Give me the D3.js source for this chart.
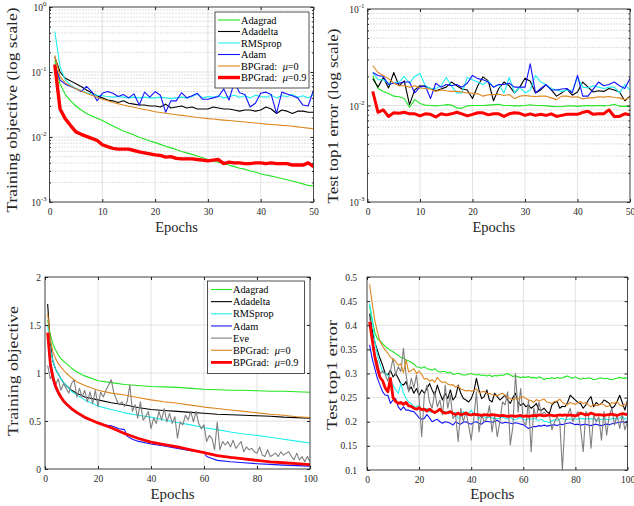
<!DOCTYPE html>
<html>
<head>
<meta charset="utf-8">
<script src="https://cdn.jsdelivr.net/npm/d3@7"></script>
<style>
body { margin: 0; background: #fff; }
svg { display: block; font-family: "Liberation Serif", "Times New Roman", serif; }
</style>
</head>
<body>
<svg width="634" height="506"></svg>
<script>
// ---- data ----
const methodNames = ["Adagrad", "Adadelta", "RMSprop", "Adam", "Eve", "BPGrad: μ=0", "BPGrad: μ=0.9"]
const methodColors = ["#22e622", "#000000", "#1ef0f0", "#1414ff", "#7f7f7f", "#dd861e", "#ff0000"]

const epochs50 = d3.range(1, 51)
const epochs100 = d3.range(1, 101)
const sparseEpochs = [1, 2, 3, 4, 5, 6, 7, 8, 10, 12, 15, 20, 25, 30, 35, 40, 45, 50, 55, 60, 65, 70, 75, 80, 85, 90, 95, 100]
const adamEpochs = [1, 2, 3, 4, 5, 6, 7, 8, 10, 12, 15, 20, 22, 25, 28, 30, 31, 33, 35, 40, 45, 50, 55, 60, 61, 63, 65, 70, 75, 80, 85, 90, 95, 100]

// top-left: training objective (log)
const trainLogAdagrad = [0.15, 0.065, 0.045, 0.036, 0.03, 0.026, 0.023, 0.021, 0.0195, 0.018, 0.0163, 0.0148, 0.0135, 0.0124, 0.0115, 0.0107, 0.0099, 0.0093, 0.0087, 0.0082, 0.0077, 0.0072, 0.0068, 0.0064, 0.006, 0.0057, 0.0054, 0.0051, 0.0048, 0.0045, 0.0043, 0.0041, 0.0039, 0.0037, 0.0035, 0.0033, 0.0032, 0.003, 0.0029, 0.0027, 0.0026, 0.0025, 0.0024, 0.0023, 0.0022, 0.0021, 0.002, 0.0019, 0.0018, 0.00176]
const trainLogAdadelta = [0.17, 0.1, 0.08, 0.073, 0.066, 0.06, 0.053, 0.048, 0.043, 0.04, 0.037, 0.036, 0.034, 0.036, 0.033, 0.032, 0.031, 0.031, 0.03, 0.03, 0.029, 0.032, 0.028, 0.029, 0.03, 0.028, 0.029, 0.027, 0.027, 0.027, 0.029, 0.028, 0.027, 0.027, 0.026, 0.025, 0.026, 0.026, 0.025, 0.026, 0.029, 0.027, 0.023, 0.026, 0.025, 0.023, 0.025, 0.025, 0.024, 0.024]
const trainLogRMSprop = [0.42, 0.12, 0.075, 0.063, 0.056, 0.052, 0.048, 0.046, 0.044, 0.043, 0.042, 0.041, 0.042, 0.041, 0.04, 0.041, 0.04, 0.041, 0.04, 0.04, 0.041, 0.04, 0.039, 0.04, 0.041, 0.04, 0.042, 0.046, 0.04, 0.042, 0.041, 0.043, 0.04, 0.042, 0.044, 0.041, 0.043, 0.04, 0.044, 0.042, 0.041, 0.044, 0.04, 0.043, 0.042, 0.045, 0.041, 0.043, 0.04, 0.045]
const trainLogAdam = [0.13, 0.075, 0.065, 0.06, 0.055, 0.05, 0.06, 0.05, 0.036, 0.047, 0.05, 0.047, 0.042, 0.045, 0.04, 0.046, 0.031, 0.049, 0.041, 0.05, 0.044, 0.024, 0.036, 0.036, 0.048, 0.04, 0.043, 0.047, 0.038, 0.038, 0.04, 0.042, 0.055, 0.037, 0.07, 0.048, 0.045, 0.029, 0.033, 0.047, 0.049, 0.045, 0.023, 0.049, 0.046, 0.043, 0.04, 0.031, 0.03, 0.053]
const trainLogBP0 = [0.18, 0.085, 0.068, 0.061, 0.055, 0.051, 0.047, 0.044, 0.041, 0.038, 0.036, 0.034, 0.0325, 0.031, 0.0298, 0.0286, 0.0275, 0.0265, 0.0255, 0.0245, 0.0238, 0.0232, 0.0226, 0.022, 0.0215, 0.021, 0.0205, 0.02, 0.0196, 0.0192, 0.0189, 0.0185, 0.0182, 0.0179, 0.0176, 0.0173, 0.017, 0.0167, 0.0164, 0.0161, 0.0158, 0.0156, 0.0154, 0.0151, 0.0149, 0.0146, 0.0143, 0.014, 0.0137, 0.0134]
const trainLogBP09 = [0.13, 0.027, 0.019, 0.015, 0.012, 0.011, 0.0102, 0.0095, 0.0089, 0.0076, 0.0071, 0.0067, 0.0065, 0.0065, 0.0065, 0.0062, 0.0059, 0.0057, 0.0055, 0.0053, 0.0052, 0.0049, 0.005, 0.0047, 0.0046, 0.0046, 0.0046, 0.0045, 0.0044, 0.0043, 0.0044, 0.0045, 0.0039, 0.0041, 0.004, 0.004, 0.0039, 0.0039, 0.004, 0.004, 0.0039, 0.004, 0.0039, 0.0039, 0.0039, 0.0037, 0.0037, 0.0037, 0.004, 0.0035]

// top-right: test top1 error (log)
const testLogAdagrad = [0.0205, 0.015, 0.014, 0.0133, 0.0125, 0.0123, 0.0118, 0.0096, 0.0115, 0.0105, 0.0101, 0.01, 0.0099, 0.01, 0.0102, 0.0101, 0.0094, 0.0094, 0.0099, 0.01, 0.01, 0.01, 0.0101, 0.0102, 0.0103, 0.01, 0.01, 0.0099, 0.0099, 0.01, 0.0102, 0.01, 0.01, 0.0099, 0.0098, 0.0097, 0.0097, 0.0099, 0.0099, 0.0098, 0.0099, 0.01, 0.0099, 0.01, 0.0099, 0.01, 0.0103, 0.0098, 0.0098, 0.0098]
const testLogAdadelta = [0.019, 0.0155, 0.0195, 0.0152, 0.022, 0.016, 0.018, 0.0102, 0.0145, 0.016, 0.0158, 0.015, 0.0142, 0.0148, 0.0155, 0.0175, 0.016, 0.0148, 0.0145, 0.0118, 0.016, 0.0198, 0.018, 0.0112, 0.015, 0.0175, 0.016, 0.0135, 0.0155, 0.0192, 0.0178, 0.0135, 0.0145, 0.0165, 0.0145, 0.0125, 0.0135, 0.0148, 0.0128, 0.0138, 0.0175, 0.0155, 0.0138, 0.0142, 0.014, 0.015, 0.0145, 0.0138, 0.0112, 0.0125]
const testLogRMSprop = [0.022, 0.0185, 0.0185, 0.017, 0.017, 0.0175, 0.02, 0.017, 0.02, 0.0215, 0.016, 0.015, 0.015, 0.016, 0.0195, 0.016, 0.0135, 0.0135, 0.0195, 0.0185, 0.0175, 0.0165, 0.018, 0.0155, 0.0165, 0.0135, 0.0195, 0.0135, 0.0155, 0.0135, 0.0145, 0.0205, 0.0175, 0.0165, 0.015, 0.0145, 0.014, 0.0145, 0.014, 0.0195, 0.0155, 0.0152, 0.016, 0.0155, 0.015, 0.0155, 0.0155, 0.0135, 0.0165, 0.0145]
const testLogAdam = [0.022, 0.0205, 0.02, 0.0165, 0.017, 0.017, 0.0175, 0.0175, 0.0135, 0.0155, 0.016, 0.0118, 0.017, 0.0155, 0.0165, 0.016, 0.0165, 0.0155, 0.017, 0.0205, 0.019, 0.0185, 0.0175, 0.0155, 0.0165, 0.0165, 0.017, 0.0155, 0.0155, 0.0155, 0.027, 0.0135, 0.015, 0.0165, 0.0145, 0.0145, 0.0148, 0.015, 0.0135, 0.0205, 0.0125, 0.0125, 0.0148, 0.0175, 0.016, 0.0165, 0.0175, 0.016, 0.015, 0.019]
const testLogBP0 = [0.026, 0.022, 0.0205, 0.019, 0.017, 0.016, 0.016, 0.0155, 0.016, 0.0152, 0.015, 0.0148, 0.014, 0.0145, 0.0142, 0.014, 0.014, 0.0138, 0.0135, 0.0134, 0.0132, 0.0125, 0.0129, 0.013, 0.0131, 0.0127, 0.013, 0.0118, 0.0125, 0.0127, 0.0125, 0.0124, 0.0125, 0.0125, 0.012, 0.0115, 0.0125, 0.0125, 0.0122, 0.0123, 0.0117, 0.012, 0.012, 0.0123, 0.0122, 0.0124, 0.0121, 0.012, 0.0115, 0.0122]
const testLogBP09 = [0.014, 0.0085, 0.009, 0.0077, 0.0084, 0.0083, 0.0085, 0.0082, 0.0082, 0.0078, 0.0082, 0.0081, 0.0076, 0.0082, 0.008, 0.0082, 0.0085, 0.0082, 0.0078, 0.0081, 0.0084, 0.0084, 0.008, 0.0082, 0.0082, 0.0077, 0.0082, 0.0084, 0.0083, 0.0079, 0.0082, 0.0079, 0.0081, 0.0079, 0.0082, 0.0077, 0.0079, 0.0081, 0.0081, 0.0081, 0.0085, 0.0087, 0.0081, 0.0082, 0.0082, 0.009, 0.0077, 0.0077, 0.0082, 0.008]

// bottom-left: training objective
const trainAdagrad = [1.55, 1.4, 1.3, 1.24, 1.19, 1.15, 1.12, 1.1, 1.05, 1.01, 0.97, 0.92, 0.9, 0.88, 0.87, 0.86, 0.855, 0.85, 0.84, 0.83, 0.825, 0.82, 0.82, 0.815, 0.81, 0.81, 0.805, 0.8]
const trainAdadelta = [1.72, 1.3, 1.12, 1.04, 0.99, 0.94, 0.9, 0.87, 0.82, 0.79, 0.75, 0.72, 0.69, 0.67, 0.64, 0.62, 0.61, 0.6, 0.59, 0.58, 0.57, 0.565, 0.56, 0.555, 0.55, 0.54, 0.535, 0.53]
const trainRMSprop = [1.5, 1.25, 1.12, 1.04, 0.99, 0.94, 0.9, 0.87, 0.81, 0.77, 0.72, 0.655, 0.62, 0.585, 0.56, 0.54, 0.51, 0.485, 0.46, 0.43, 0.41, 0.385, 0.365, 0.35, 0.33, 0.31, 0.29, 0.27]
const trainAdam = [1.4, 1.05, 0.92, 0.84, 0.78, 0.74, 0.7, 0.67, 0.62, 0.58, 0.53, 0.48, 0.46, 0.45, 0.42, 0.41, 0.34, 0.31, 0.29, 0.26, 0.24, 0.215, 0.19, 0.18, 0.13, 0.11, 0.09, 0.075, 0.065, 0.055, 0.048, 0.04, 0.035, 0.03]
const trainEve = [1.08, 0.94, 1.0, 0.875, 0.94, 0.82, 0.89, 0.84, 0.79, 0.89, 0.93, 0.75, 0.84, 0.75, 0.82, 0.7, 0.805, 0.68, 0.82, 0.65, 0.8, 0.75, 0.82, 0.875, 0.93, 0.79, 0.72, 0.67, 0.7, 0.65, 0.7, 0.875, 0.6, 0.67, 0.53, 0.7, 0.51, 0.545, 0.6, 0.42, 0.53, 0.475, 0.6, 0.51, 0.63, 0.49, 0.58, 0.475, 0.545, 0.32, 0.49, 0.46, 0.56, 0.51, 0.6, 0.49, 0.6, 0.475, 0.42, 0.46, 0.285, 0.35, 0.32, 0.2, 0.49, 0.2, 0.285, 0.25, 0.285, 0.23, 0.3, 0.215, 0.25, 0.285, 0.18, 0.23, 0.2, 0.215, 0.18, 0.165, 0.23, 0.145, 0.13, 0.2, 0.13, 0.145, 0.165, 0.13, 0.18, 0.145, 0.165, 0.18, 0.13, 0.095, 0.165, 0.095, 0.13, 0.076, 0.13, 0.076]
const trainBP0 = [1.62, 1.35, 1.22, 1.15, 1.1, 1.06, 1.03, 1.0, 0.95, 0.91, 0.87, 0.82, 0.79, 0.77, 0.745, 0.72, 0.7, 0.685, 0.665, 0.645, 0.63, 0.615, 0.6, 0.585, 0.57, 0.56, 0.545, 0.535]
const trainBP09 = [1.42, 1.1, 0.95, 0.86, 0.8, 0.75, 0.71, 0.68, 0.63, 0.59, 0.54, 0.48, 0.43, 0.37, 0.32, 0.28, 0.255, 0.23, 0.2, 0.17, 0.14, 0.12, 0.105, 0.09, 0.075, 0.065, 0.055, 0.045]

// bottom-right: test top1 error
const testAdagrad = [0.44, 0.41, 0.385, 0.372, 0.368, 0.362, 0.356, 0.352, 0.348, 0.345, 0.341, 0.338, 0.333, 0.332, 0.328, 0.326, 0.323, 0.32, 0.314, 0.313, 0.311, 0.314, 0.31, 0.309, 0.307, 0.31, 0.305, 0.303, 0.304, 0.304, 0.301, 0.303, 0.298, 0.299, 0.301, 0.298, 0.297, 0.297, 0.299, 0.3, 0.298, 0.297, 0.298, 0.296, 0.297, 0.295, 0.297, 0.294, 0.296, 0.295, 0.297, 0.296, 0.298, 0.3, 0.297, 0.294, 0.295, 0.293, 0.291, 0.293, 0.292, 0.294, 0.291, 0.292, 0.29, 0.293, 0.291, 0.287, 0.29, 0.289, 0.291, 0.289, 0.292, 0.29, 0.291, 0.293, 0.295, 0.292, 0.29, 0.293, 0.29, 0.288, 0.29, 0.289, 0.291, 0.29, 0.287, 0.288, 0.29, 0.291, 0.289, 0.29, 0.288, 0.287, 0.289, 0.29, 0.292, 0.29, 0.291, 0.29]
const testAdadelta = [0.424, 0.39, 0.365, 0.348, 0.331, 0.317, 0.3, 0.297, 0.307, 0.293, 0.3, 0.29, 0.279, 0.276, 0.283, 0.265, 0.272, 0.259, 0.269, 0.255, 0.266, 0.259, 0.269, 0.279, 0.266, 0.255, 0.276, 0.259, 0.245, 0.259, 0.248, 0.266, 0.245, 0.252, 0.276, 0.259, 0.248, 0.245, 0.241, 0.248, 0.262, 0.29, 0.266, 0.248, 0.252, 0.266, 0.245, 0.241, 0.259, 0.252, 0.245, 0.25, 0.255, 0.245, 0.238, 0.25, 0.259, 0.24, 0.234, 0.238, 0.231, 0.235, 0.228, 0.232, 0.238, 0.225, 0.224, 0.228, 0.221, 0.217, 0.235, 0.24, 0.242, 0.228, 0.232, 0.231, 0.24, 0.255, 0.25, 0.245, 0.24, 0.238, 0.228, 0.235, 0.245, 0.252, 0.231, 0.24, 0.235, 0.238, 0.245, 0.242, 0.238, 0.228, 0.232, 0.242, 0.255, 0.24, 0.224, 0.245]
const testRMSprop = [0.445, 0.414, 0.366, 0.338, 0.32, 0.303, 0.3, 0.296, 0.286, 0.276, 0.266, 0.259, 0.28, 0.259, 0.248, 0.241, 0.238, 0.231, 0.231, 0.234, 0.224, 0.224, 0.228, 0.221, 0.219, 0.221, 0.222, 0.228, 0.221, 0.221, 0.219, 0.221, 0.217, 0.219, 0.207, 0.21, 0.221, 0.214, 0.217, 0.224, 0.214, 0.217, 0.207, 0.214, 0.21, 0.208, 0.21, 0.208, 0.207, 0.206, 0.208, 0.21, 0.207, 0.206, 0.21, 0.205, 0.204, 0.207, 0.209, 0.205, 0.203, 0.206, 0.205, 0.208, 0.204, 0.203, 0.205, 0.201, 0.2, 0.198, 0.202, 0.204, 0.203, 0.205, 0.207, 0.204, 0.205, 0.206, 0.204, 0.206, 0.205, 0.207, 0.206, 0.205, 0.207, 0.206, 0.205, 0.204, 0.203, 0.205, 0.206, 0.205, 0.204, 0.206, 0.207, 0.205, 0.208, 0.212, 0.205, 0.209]
const testAdam = [0.359, 0.331, 0.31, 0.29, 0.276, 0.262, 0.255, 0.255, 0.238, 0.245, 0.248, 0.231, 0.224, 0.231, 0.224, 0.224, 0.222, 0.221, 0.215, 0.208, 0.205, 0.207, 0.215, 0.208, 0.2, 0.203, 0.205, 0.2, 0.197, 0.2, 0.199, 0.197, 0.193, 0.2, 0.197, 0.195, 0.199, 0.2, 0.197, 0.195, 0.199, 0.2, 0.197, 0.195, 0.2, 0.201, 0.2, 0.199, 0.201, 0.203, 0.199, 0.197, 0.199, 0.198, 0.197, 0.196, 0.198, 0.197, 0.195, 0.194, 0.19, 0.186, 0.188, 0.19, 0.19, 0.192, 0.191, 0.193, 0.191, 0.192, 0.193, 0.194, 0.192, 0.195, 0.194, 0.196, 0.197, 0.198, 0.196, 0.194, 0.195, 0.193, 0.194, 0.195, 0.193, 0.192, 0.194, 0.195, 0.193, 0.192, 0.194, 0.195, 0.194, 0.196, 0.197, 0.198, 0.199, 0.2, 0.198, 0.202]
const testEve = [0.42, 0.37, 0.34, 0.324, 0.3, 0.305, 0.298, 0.284, 0.306, 0.331, 0.297, 0.314, 0.304, 0.352, 0.297, 0.262, 0.29, 0.27, 0.297, 0.248, 0.169, 0.255, 0.276, 0.241, 0.228, 0.262, 0.231, 0.245, 0.214, 0.276, 0.228, 0.255, 0.207, 0.214, 0.159, 0.228, 0.2, 0.221, 0.193, 0.162, 0.207, 0.262, 0.179, 0.214, 0.2, 0.207, 0.234, 0.179, 0.214, 0.169, 0.2, 0.241, 0.235, 0.262, 0.152, 0.19, 0.3, 0.22, 0.269, 0.2, 0.193, 0.245, 0.138, 0.228, 0.207, 0.241, 0.214, 0.22, 0.214, 0.214, 0.183, 0.2, 0.21, 0.2, 0.1, 0.2, 0.214, 0.228, 0.2, 0.214, 0.221, 0.186, 0.138, 0.221, 0.214, 0.145, 0.214, 0.2, 0.21, 0.162, 0.221, 0.172, 0.214, 0.228, 0.193, 0.214, 0.186, 0.214, 0.183, 0.2]
const testBP0 = [0.485, 0.445, 0.41, 0.386, 0.366, 0.357, 0.348, 0.342, 0.334, 0.33, 0.325, 0.317, 0.32, 0.302, 0.328, 0.303, 0.306, 0.31, 0.3, 0.305, 0.298, 0.288, 0.29, 0.284, 0.287, 0.282, 0.292, 0.285, 0.281, 0.283, 0.278, 0.276, 0.277, 0.272, 0.274, 0.268, 0.266, 0.264, 0.265, 0.263, 0.265, 0.268, 0.26, 0.262, 0.263, 0.258, 0.259, 0.256, 0.255, 0.254, 0.257, 0.259, 0.255, 0.25, 0.248, 0.245, 0.249, 0.247, 0.25, 0.252, 0.248, 0.245, 0.244, 0.24, 0.246, 0.243, 0.245, 0.247, 0.241, 0.24, 0.238, 0.242, 0.243, 0.247, 0.24, 0.237, 0.235, 0.24, 0.238, 0.236, 0.24, 0.242, 0.238, 0.24, 0.235, 0.231, 0.236, 0.233, 0.235, 0.238, 0.235, 0.231, 0.233, 0.24, 0.238, 0.242, 0.235, 0.232, 0.236, 0.238]
const testBP09 = [0.407, 0.37, 0.335, 0.31, 0.292, 0.285, 0.27, 0.262, 0.29, 0.25, 0.242, 0.238, 0.24, 0.236, 0.24, 0.233, 0.232, 0.228, 0.226, 0.229, 0.225, 0.226, 0.222, 0.226, 0.222, 0.219, 0.222, 0.226, 0.22, 0.218, 0.219, 0.221, 0.217, 0.215, 0.218, 0.214, 0.216, 0.218, 0.215, 0.214, 0.216, 0.215, 0.214, 0.213, 0.215, 0.214, 0.213, 0.215, 0.214, 0.213, 0.212, 0.213, 0.212, 0.211, 0.212, 0.212, 0.211, 0.212, 0.213, 0.211, 0.212, 0.211, 0.212, 0.213, 0.212, 0.214, 0.213, 0.212, 0.213, 0.214, 0.213, 0.212, 0.213, 0.214, 0.213, 0.214, 0.213, 0.214, 0.213, 0.212, 0.214, 0.218, 0.216, 0.214, 0.215, 0.218, 0.216, 0.214, 0.215, 0.214, 0.213, 0.214, 0.215, 0.216, 0.214, 0.213, 0.215, 0.217, 0.216, 0.215]

// ticks
const xTicks50 = [0, 10, 20, 30, 40, 50]
const xTicks100 = [0, 20, 40, 60, 80, 100]
const logTicksTop = [1e-3, 1e-2, 1e-1, 1]
const logTicksTest = [1e-3, 1e-2, 1e-1]
const trainTicks = [0, 0.5, 1, 1.5, 2]
const testTicks = [0.1, 0.15, 0.2, 0.25, 0.3, 0.35, 0.4, 0.45, 0.5]
const trainTickLabels = ["0", "0.5", "1", "1.5", "2"]
const testTickLabels = ["0.1", "0.15", "0.2", "0.25", "0.3", "0.35", "0.4", "0.45", "0.5"]

// ---- drawing ----
const svg = d3.select("svg")
const ink = "#262626"
const tickFont = 9.5

function makeSeries(idx, epochs, values, thick) {
    return { name: methodNames[idx], color: methodColors[idx], epochs: epochs, values: values,
        width: idx === 6 ? thick : 1.1 }
}

function minorTicksFor(domain) {
    const out = []
    for (let e = Math.log10(domain[0]); e < Math.log10(domain[1]) - 0.01; e++) {
        for (let k = 2; k <= 9; k++) out.push(k * Math.pow(10, e))
    }
    return out
}

function drawPanel(p) {
    const x = d3.scaleLinear().domain(p.xDomain).range([p.left, p.right])
    const y = (p.log ? d3.scaleLog() : d3.scaleLinear()).domain(p.yDomain).range([p.bottom, p.top])
    const g = svg.append("g")

    const minors = p.log ? minorTicksFor(p.yDomain) : []
    g.append("g").selectAll("line").data(minors).join("line")
        .attr("x1", p.left).attr("x2", p.right)
        .attr("y1", d => y(d)).attr("y2", d => y(d))
        .attr("stroke", "#a8a8a8").attr("stroke-width", 0.7).attr("stroke-dasharray", "1 2")
    g.append("g").selectAll("line").data(p.xTicks).join("line")
        .attr("x1", d => x(d)).attr("x2", d => x(d))
        .attr("y1", p.top).attr("y2", p.bottom)
        .attr("stroke", "#e2e2e2").attr("stroke-width", 1)
    g.append("g").selectAll("line").data(p.yTicks).join("line")
        .attr("x1", p.left).attr("x2", p.right)
        .attr("y1", d => y(d)).attr("y2", d => y(d))
        .attr("stroke", "#e2e2e2").attr("stroke-width", 1)

    svg.append("clipPath").attr("id", "clip" + p.id)
        .append("rect").attr("x", p.left).attr("y", p.top)
        .attr("width", p.right - p.left).attr("height", p.bottom - p.top)

    const line = d3.line().x(d => x(d[0])).y(d => y(d[1]))
    const lineGroup = g.append("g").attr("clip-path", `url(#clip${p.id})`)
    p.series.forEach((s) => {
        lineGroup.append("path")
            .datum(d3.zip(s.epochs, s.values))
            .attr("d", line)
            .attr("fill", "none")
            .attr("stroke", s.color)
            .attr("stroke-width", s.width)
            .attr("stroke-linejoin", "round")
    })

    g.append("rect")
        .attr("x", p.left).attr("y", p.top)
        .attr("width", p.right - p.left).attr("height", p.bottom - p.top)
        .attr("fill", "none").attr("stroke", ink).attr("stroke-width", 0.8)

    // ticks pointing inward, labels outside
    const tidy = (sel) => {
        sel.select(".domain").remove()
        sel.attr("color", ink).attr("font-family", null).attr("font-size", tickFont)
    }
    g.append("g").attr("transform", `translate(0,${p.bottom})`)
        .call(d3.axisBottom(x).tickValues(p.xTicks).tickFormat(d3.format("d"))
            .tickSizeInner(-3).tickSizeOuter(0).tickPadding(6))
        .call(tidy)
    g.append("g").attr("transform", `translate(0,${p.top})`)
        .call(d3.axisTop(x).tickValues(p.xTicks).tickFormat("").tickSizeInner(-3).tickSizeOuter(0))
        .call(tidy)
    const yLeft = g.append("g").attr("transform", `translate(${p.left},0)`)
        .call(d3.axisLeft(y).tickValues(p.yTicks).tickSizeInner(-3).tickSizeOuter(0).tickPadding(p.yPad)
            .tickFormat(p.log ? "" : (d, i) => p.yLabels[i]))
        .call(tidy)
    g.append("g").attr("transform", `translate(${p.right},0)`)
        .call(d3.axisRight(y).tickValues(p.yTicks).tickFormat("").tickSizeInner(-3).tickSizeOuter(0))
        .call(tidy)
    if (p.log) {
        g.append("g").attr("transform", `translate(${p.left},0)`)
            .call(d3.axisLeft(y).tickValues(minors).tickFormat("").tickSizeInner(-1.5).tickSizeOuter(0))
            .call(tidy)
        g.append("g").attr("transform", `translate(${p.right},0)`)
            .call(d3.axisRight(y).tickValues(minors).tickFormat("").tickSizeInner(-1.5).tickSizeOuter(0))
            .call(tidy)
        const lbl = yLeft.selectAll(".logLabel").data(p.yTicks).join("text")
            .attr("class", "logLabel")
            .attr("x", -p.yPad).attr("y", d => y(d) + 4)
            .attr("text-anchor", "end").attr("fill", ink).attr("font-size", tickFont)
        lbl.append("tspan").text("10")
        lbl.append("tspan").attr("dy", -5).attr("font-size", 7)
            .text(d => String(Math.round(Math.log10(d))))
    }

    svg.append("text")
        .text("Epochs")
        .attr("x", (p.left + p.right) / 2 - 5).attr("y", p.xLabelY)
        .attr("text-anchor", "middle").attr("font-size", p.xLabelSize).attr("fill", ink)
    svg.append("text")
        .text(p.yTitle)
        .attr("transform", `translate(${p.yLabelX},${p.yLabelMid}) rotate(-90)`)
        .attr("text-anchor", "middle").attr("font-size", 14.5).attr("fill", ink)
        .attr("textLength", p.yLabelLen).attr("lengthAdjust", "spacingAndGlyphs")

    if (p.legend) drawLegend(p.series, p.legend)
}

function drawLegend(series, lg) {
    const g = svg.append("g")
    g.append("rect")
        .attr("x", lg.x0).attr("y", lg.y0)
        .attr("width", lg.x1 - lg.x0).attr("height", lg.y1 - lg.y0)
        .attr("fill", "#fff").attr("stroke", ink).attr("stroke-width", 0.8)
    const rows = g.selectAll(".row").data(series).join("g")
        .attr("transform", (d, i) => `translate(0,${lg.first + i * lg.step})`)
    rows.append("line")
        .attr("x1", lg.lineX0).attr("x2", lg.lineX1)
        .attr("stroke", d => d.color).attr("stroke-width", d => d.width)
    const txt = rows.append("text")
        .attr("x", lg.textX).attr("y", 3.6)
        .attr("font-size", 10.3).attr("fill", "#000")
    txt.each(function (d) {
        const parts = d.name.split("μ")
        const t = d3.select(this)
        t.append("tspan").text(parts[0])
        if (parts.length > 1) {
            t.append("tspan").attr("dx", 3).attr("font-style", "italic").text("μ")
            t.append("tspan").text(parts[1])
        }
    })
}

drawPanel({
    id: 1, left: 49.5, right: 313.5, top: 7, bottom: 202, log: true,
    xDomain: [0, 50], yDomain: [1e-3, 1], xTicks: xTicks50, yTicks: logTicksTop, yPad: 3,
    xLabelY: 232, xLabelSize: 14.5,
    yTitle: "Training objective (log scale)", yLabelX: 17, yLabelMid: 110, yLabelLen: 205,
    series: [
        makeSeries(0, epochs50, trainLogAdagrad, 3.4),
        makeSeries(1, epochs50, trainLogAdadelta, 3.4),
        makeSeries(2, epochs50, trainLogRMSprop, 3.4),
        makeSeries(3, epochs50, trainLogAdam, 3.4),
        makeSeries(5, epochs50, trainLogBP0, 3.4),
        makeSeries(6, epochs50, trainLogBP09, 3.4)
    ],
    legend: { x0: 215, x1: 309, y0: 12, y1: 88, first: 20, step: 11.5, lineX0: 218, lineX1: 240, textX: 241 }
})

drawPanel({
    id: 2, left: 367.5, right: 630, top: 9, bottom: 202, log: true,
    xDomain: [0, 50], yDomain: [1e-3, 1e-1], xTicks: xTicks50, yTicks: logTicksTest, yPad: 3,
    xLabelY: 232, xLabelSize: 14.5,
    yTitle: "Test top1 error (log scale)", yLabelX: 337.5, yLabelMid: 116, yLabelLen: 175,
    series: [
        makeSeries(0, epochs50, testLogAdagrad, 3),
        makeSeries(1, epochs50, testLogAdadelta, 3),
        makeSeries(2, epochs50, testLogRMSprop, 3),
        makeSeries(3, epochs50, testLogAdam, 3),
        makeSeries(5, epochs50, testLogBP0, 3),
        makeSeries(6, epochs50, testLogBP09, 3)
    ]
})

drawPanel({
    id: 3, left: 45, right: 310, top: 277, bottom: 469, log: false,
    xDomain: [0, 100], yDomain: [0, 2], xTicks: xTicks100, yTicks: trainTicks, yLabels: trainTickLabels, yPad: 4,
    xLabelY: 499, xLabelSize: 15,
    yTitle: "Training objective", yLabelX: 18, yLabelMid: 371, yLabelLen: 130,
    series: [
        makeSeries(0, sparseEpochs, trainAdagrad, 2.8),
        makeSeries(1, sparseEpochs, trainAdadelta, 2.8),
        makeSeries(2, sparseEpochs, trainRMSprop, 2.8),
        makeSeries(3, adamEpochs, trainAdam, 2.8),
        makeSeries(4, epochs100, trainEve, 2.8),
        makeSeries(5, sparseEpochs, trainBP0, 2.8),
        makeSeries(6, sparseEpochs, trainBP09, 2.8)
    ],
    legend: { x0: 207.5, x1: 304.5, y0: 281, y1: 373.5, first: 289.5, step: 12.15, lineX0: 211, lineX1: 232, textX: 233 }
})

drawPanel({
    id: 4, left: 367, right: 627.5, top: 277, bottom: 470, log: false,
    xDomain: [0, 100], yDomain: [0.1, 0.5], xTicks: xTicks100, yTicks: testTicks, yLabels: testTickLabels, yPad: 10,
    xLabelY: 499, xLabelSize: 15,
    yTitle: "Test top1 error", yLabelX: 337, yLabelMid: 375, yLabelLen: 110,
    series: [
        makeSeries(0, epochs100, testAdagrad, 2.8),
        makeSeries(1, epochs100, testAdadelta, 2.8),
        makeSeries(2, epochs100, testRMSprop, 2.8),
        makeSeries(3, epochs100, testAdam, 2.8),
        makeSeries(4, epochs100, testEve, 2.8),
        makeSeries(5, epochs100, testBP0, 2.8),
        makeSeries(6, epochs100, testBP09, 2.8)
    ]
})
</script>
</body>
</html>
